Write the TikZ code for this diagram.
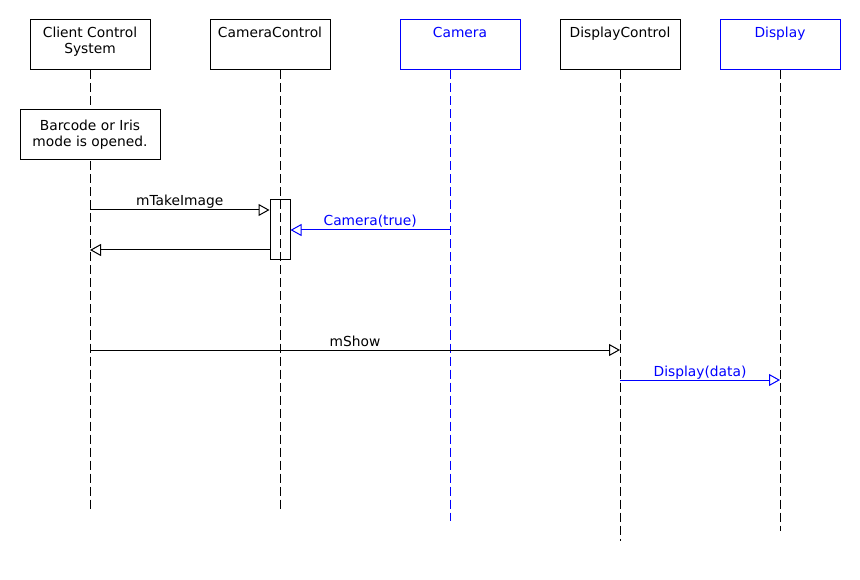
\documentclass[tikz,border=0pt]{standalone}
\usepackage{fontspec}
\setmainfont{DejaVu Sans}
\usetikzlibrary{arrows.meta}
\definecolor{seqblue}{RGB}{0,0,255}

\begin{document}
\begin{tikzpicture}[x=1pt, y=-1pt, line width=1pt,
    font=\fontsize{13.8}{16}\selectfont,
    part/.style={draw, minimum width=120pt, minimum height=50pt, inner sep=0pt},
    ptext/.style={anchor=north, align=center, inner sep=7pt},
    life/.style={dash pattern=on 9pt off 4pt},
    msg/.style={-{Triangle[open, length=11pt, width=12pt]}},
    lbl/.style={anchor=base, yshift=4pt, inner sep=0pt}]
    \useasboundingbox (0,0) rectangle (860,580);

    % participants
    \node[part] (ccs) at (90,45) {};
    \node[ptext] (ccsT) at (ccs.north) {Client Control\\System};
    \node[part] (cc) at (270,45) {};
    \node[ptext] (ccT) at (cc.north) {CameraControl};
    \node[part, seqblue] (cam) at (460,45) {};
    \node[ptext, seqblue] (camT) at (cam.north) {Camera};
    \node[part] (dc) at (620,45) {};
    \node[ptext] (dcT) at (dc.north) {DisplayControl};
    \node[part, seqblue] (dis) at (780,45) {};
    \node[ptext, seqblue] (disT) at (dis.north) {Display};

    % lifelines
    \draw[life] (ccs.south) -- ++(0,440);
    \draw[life] ([xshift=10pt]cc.south) coordinate (ccL) -- ++(0,440);
    \draw[life, seqblue] ([xshift=-10pt]cam.south) coordinate (camL) -- ++(0,450);
    \draw[life] (dc.south) -- ++(0,470);
    \draw[life] (dis.south) -- ++(0,460);

    \node[draw, fill=white, minimum width=140pt, minimum height=50pt, align=center]
        (note) at (90,135) {Barcode or Iris\\mode is opened.};
    \node[draw, minimum width=20pt, minimum height=60pt, inner sep=0pt] (act) at (ccL |- 0,230) {};

    % messages
    \draw[msg] (ccs.south |- 0,210) -- node[lbl] {mTakeImage} (act.west |- 0,210);
    \draw[msg, seqblue] (camL |- 0,230) -- node[lbl] {Camera(true)} (act.east |- 0,230);
    \draw[msg] (act.west |- 0,250) -- (ccs.south |- 0,250);
    \draw[msg] (ccs.south |- 0,350) -- node[lbl] {mShow} (dc.south |- 0,350);
    \draw[msg, seqblue] (dc.south |- 0,380) -- node[lbl] {Display(data)} (dis.south |- 0,380);
\end{tikzpicture}
\end{document}
